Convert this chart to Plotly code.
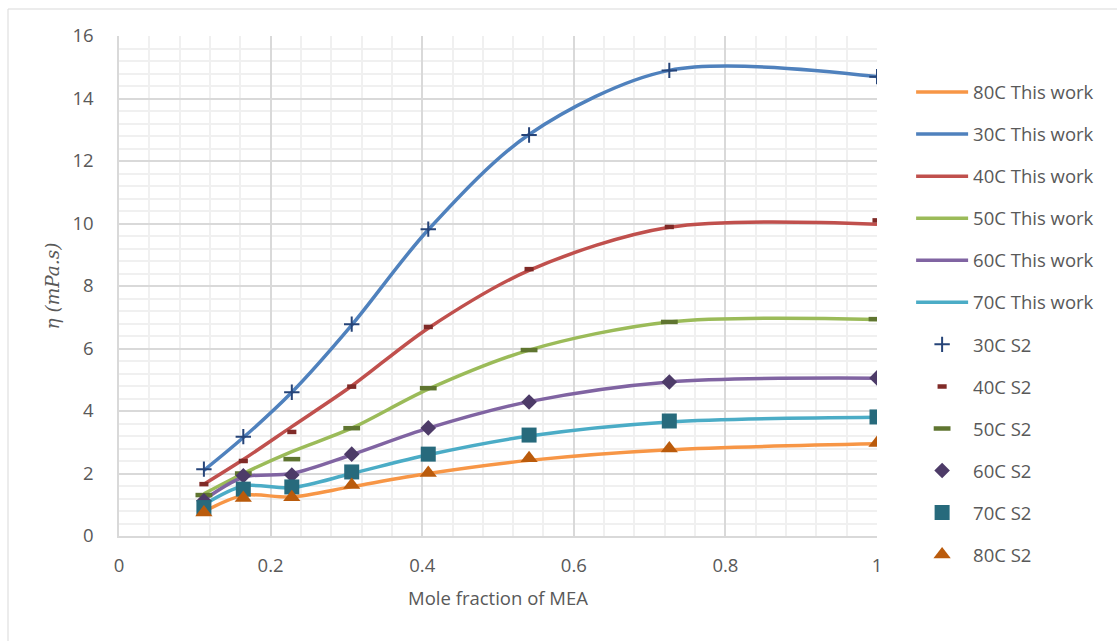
import plotly.graph_objects as go

x_mea = [0.112, 0.164, 0.228, 0.307, 0.408, 0.541, 0.726, 1.0]

# "This work" smoothed lines
tw_30 = [2.10, 3.15, 4.60, 6.75, 9.80, 12.85, 14.90, 14.70]
tw_40 = [1.66, 2.45, 3.50, 4.80, 6.65, 8.50, 9.88, 9.98]
tw_50 = [1.35, 2.00, 2.70, 3.45, 4.70, 5.95, 6.85, 6.93]
tw_60 = [1.15, 1.88, 2.00, 2.60, 3.45, 4.30, 4.93, 5.05]
tw_70 = [1.00, 1.60, 1.55, 2.00, 2.60, 3.20, 3.65, 3.80]
tw_80 = [0.78, 1.30, 1.25, 1.58, 2.00, 2.42, 2.76, 2.95]

# S2 reference points
s2_30 = [2.14, 3.18, 4.60, 6.78, 9.82, 12.83, 14.90, 14.70]
s2_40 = [1.66, 2.40, 3.33, 4.78, 6.69, 8.54, 9.89, 10.10]
s2_50 = [1.31, 2.00, 2.46, 3.45, 4.73, 5.95, 6.85, 6.94]
s2_60 = [1.13, 1.93, 1.95, 2.62, 3.46, 4.29, 4.93, 5.06]
s2_70 = [0.91, 1.50, 1.57, 2.05, 2.62, 3.23, 3.68, 3.81]
s2_80 = [0.75, 1.22, 1.24, 1.63, 2.02, 2.49, 2.80, 2.98]

x_ticks = [0, 0.2, 0.4, 0.6, 0.8, 1]
x_ticklabels = ["0", "0.2", "0.4", "0.6", "0.8", "1"]
y_ticks = [0, 2, 4, 6, 8, 10, 12, 14, 16]

FONT = "Open Sans"
GRAY = "#595959"
FS = 18.5

fig = go.Figure()

lines = [
    ("80C This work", tw_80, "#F79646"),
    ("30C This work", tw_30, "#4F81BD"),
    ("40C This work", tw_40, "#C0504D"),
    ("50C This work", tw_50, "#9BBB59"),
    ("60C This work", tw_60, "#8064A2"),
    ("70C This work", tw_70, "#4BACC6"),
]
for i, (name, ys, col) in enumerate(lines):
    fig.add_trace(go.Scatter(
        x=x_mea, y=ys, mode="lines", name=name,
        line=dict(color=col, width=3.5, shape="spline", smoothing=0.9),
        legendgroup="g%d" % i,
    ))

markers = [
    ("30C S2", s2_30, "cross-thin", 11, "#264478", 2),
    ("40C S2", s2_40, "line-ew", 6.5, "#7F2A27", 4.5),
    ("50C S2", s2_50, "line-ew", 12, "#5F7530", 4.5),
    ("60C S2", s2_60, "diamond", 12, "#4D3B68", 0),
    ("70C S2", s2_70, "square", 15, "#276A7C", 0),
    ("80C S2", s2_80, "triangle-up", 15, "#BA5B0C", 0),
]
for j, (name, ys, sym, sz, col, lw) in enumerate(markers):
    mk = dict(symbol=sym, size=sz, color=col)
    if lw:
        mk["line"] = dict(color=col, width=lw)
    else:
        mk["line"] = dict(width=0)
    fig.add_trace(go.Scatter(
        x=x_mea, y=ys, mode="markers", name=name, marker=mk,
        legendgroup="m%d" % j,
    ))

fig.update_layout(
    width=1117, height=641,
    margin=dict(l=119, r=240, t=36, b=105),
    paper_bgcolor="white", plot_bgcolor="white",
    font=dict(family=FONT, size=FS, color=GRAY),
    legend=dict(
        x=1.045, xanchor="left", y=0.925, yanchor="top",
        font=dict(family=FONT, size=FS, color=GRAY),
        traceorder="grouped", tracegroupgap=15,
        itemwidth=52, maxheight=620,
        bgcolor="rgba(0,0,0,0)",
    ),
    xaxis=dict(
        range=[0, 1], tickvals=x_ticks, ticktext=x_ticklabels,
        showgrid=True, gridcolor="#D9D9D9", gridwidth=1.5,
        minor=dict(dtick=0.04, showgrid=True, gridcolor="#F0F0F0", gridwidth=1.5, ticks=""),
        showline=True, linecolor="#D9D9D9", linewidth=1.5,
        zeroline=False, ticks="", ticklabelstandoff=12,
        tickfont=dict(family=FONT, size=FS, color=GRAY),
        title=dict(text="Mole fraction of MEA", font=dict(family=FONT, size=FS, color=GRAY), standoff=16),
    ),
    yaxis=dict(
        range=[0, 16], tickvals=y_ticks,
        showgrid=True, gridcolor="#D9D9D9", gridwidth=1.5,
        minor=dict(dtick=0.4, showgrid=True, gridcolor="#F0F0F0", gridwidth=1.5, ticks=""),
        showline=True, linecolor="#D9D9D9", linewidth=1.5,
        zeroline=False, ticks="", ticklabelstandoff=20,
        tickfont=dict(family=FONT, size=FS, color=GRAY),
        title=dict(text="<i>η (mPa.s)</i>", font=dict(family="DejaVu Serif", size=18.5, color=GRAY), standoff=8),
    ),
    shapes=[dict(
        type="rect", xref="paper", yref="paper",
        x0=(8 - 119) / 758, x1=(1130 - 119) / 758,
        y0=(536 - 660) / 500, y1=(536 - 9) / 500,
        line=dict(color="#D9D9D9", width=1), fillcolor="rgba(0,0,0,0)", layer="below",
    )],
)

fig.write_html("out.html")
